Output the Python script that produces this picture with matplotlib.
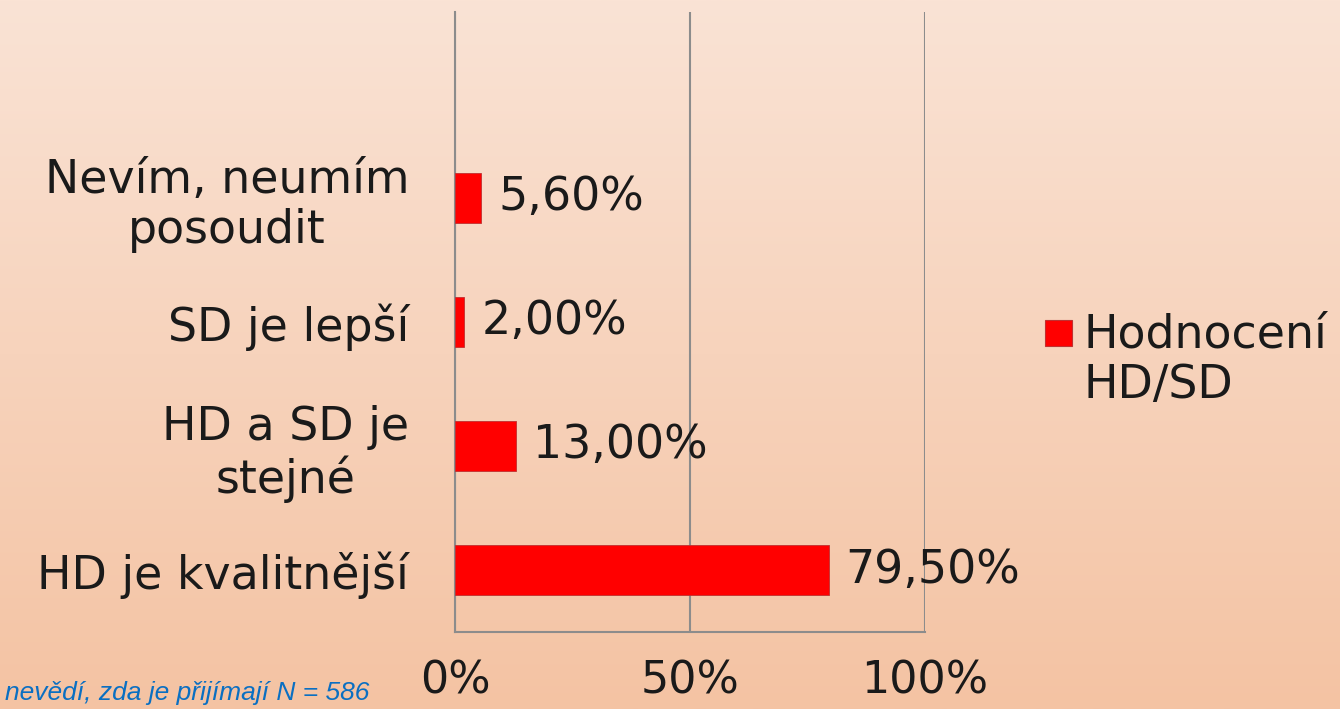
import numpy as np
import matplotlib
matplotlib.use("Agg")
import matplotlib.pyplot as plt
from matplotlib.patches import Rectangle

categories = ["HD je kvalitnější", "HD a SD je\nstejné", "SD je lepší", "Nevím, neumím\nposoudit"]
values = [79.5, 13.0, 2.0, 5.6]
xticks = [0, 50, 100]
xticklabels = ["0%", "50%", "100%"]
series_name = "Hodnocení\nHD/SD"
note = "nevědí, zda je přijímají N = 586"

fig = plt.figure(figsize=(13.4, 7.09), dpi=100)

# peach gradient background
bg = fig.add_axes([0, 0, 1, 1], zorder=-10)
grad = np.linspace(0, 1, 256).reshape(-1, 1)
top = np.array([250, 227, 213]) / 255
bottom = np.array([244, 195, 163]) / 255
img = top + (bottom - top) * grad[:, :, None]
bg.imshow(img, aspect="auto", extent=[0, 1, 0, 1])
bg.axis("off")

fs = 33
ax = fig.add_axes([0.3396, 0.1086, 0.3507, 0.8745])
ax.set_facecolor("none")
pos = np.arange(len(categories))
ax.barh(pos, values, height=0.4, color="#ff0000", edgecolor="#c03030", linewidth=0.6, zorder=3)

for p, v in zip(pos, values):
    ax.annotate(f"{v:.2f}".replace(".", ",") + "%", (v, p), xytext=(12, 0),
                textcoords="offset points", va="center", ha="left",
                fontsize=fs, color="#1a1a1a")

ax.set_xlim(0, 100)
ax.set_ylim(-0.5, 4.5)
ax.set_xticks(xticks)
ax.set_xticklabels(xticklabels, fontsize=32, color="#1a1a1a")
ax.set_yticks(pos)
ax.set_yticklabels(categories, fontsize=fs, color="#1a1a1a", multialignment="center",
                   linespacing=1.15)
ax.tick_params(axis="both", length=0)
ax.tick_params(axis="y", pad=33)
ax.tick_params(axis="x", pad=20)
ax.xaxis.grid(True, color="#8c8c8c", linewidth=1.5, zorder=1)
for s in ["top", "right"]:
    ax.spines[s].set_visible(False)
for s in ["left", "bottom"]:
    ax.spines[s].set_color("#8c8c8c")
    ax.spines[s].set_linewidth(1.5)

# legend: square lined up with the first line of the label
W, H = 1340, 709
fig.patches.append(Rectangle((1045 / W, (H - 346) / H), 27 / W, 26 / H,
                             transform=fig.transFigure, facecolor="#ff0000",
                             edgecolor="#c03030", linewidth=0.8))
fig.text(1083 / W, (H - 360) / H, series_name, fontsize=fs, color="#1a1a1a",
         ha="left", va="center", linespacing=1.15)

fig.text(0.004, 0.012, note, fontsize=19, style="italic", color="#0a6fc2",
         family=["Liberation Sans", "DejaVu Sans"])

fig.savefig("out.png", dpi=100)
